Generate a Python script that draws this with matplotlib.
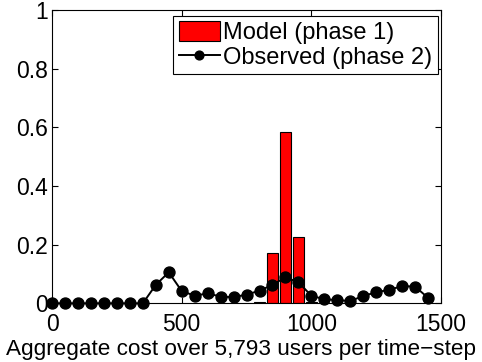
import matplotlib
matplotlib.use('Agg')
import matplotlib.pyplot as plt

plt.rcParams['font.family'] = ['Liberation Sans', 'DejaVu Sans']
plt.rcParams['axes.unicode_minus'] = True

# model distribution (bars) and observed distribution (line), cost bins of width 50
bar_x = [800, 850, 900, 950, 1000]
model_frac = [0.005, 0.171, 0.583, 0.226, 0.006]

obs_x = list(range(0, 1500, 50))
obs_frac = [0.0, 0.0, 0.0, 0.0, 0.0, 0.0, 0.0, 0.0, 0.063, 0.106,
            0.042, 0.026, 0.034, 0.023, 0.021, 0.030, 0.043, 0.063, 0.089, 0.072,
            0.026, 0.014, 0.011, 0.008, 0.025, 0.038, 0.046, 0.059, 0.057, 0.019]

xticks = [0, 500, 1000, 1500]
yticks = [0, 0.2, 0.4, 0.6, 0.8, 1]
ytick_labels = ['0', '0.2', '0.4', '0.6', '0.8', '1']

fs = 16.5

fig = plt.figure(figsize=(4.82, 3.62), dpi=100)
ax = fig.add_axes([0.108, 0.162, 0.807, 0.810])

bars = ax.bar(bar_x, model_frac, width=40, color='red', edgecolor='black',
              linewidth=0.8, label='Model (phase 1)', zorder=2)
line, = ax.plot(obs_x, obs_frac, '-o', color='black', markersize=7.9, linewidth=1.4,
                label='Observed (phase 2)', zorder=3, clip_on=False)

ax.set_xlim(0, 1500)
ax.set_ylim(0, 1)
ax.set_xticks(xticks)
ax.set_yticks(yticks)
ax.set_yticklabels(ytick_labels)
ax.tick_params(direction='in', top=True, right=True, length=4, width=0.8,
               labelsize=fs)
ax.tick_params(axis='x', pad=7)
ax.tick_params(axis='y', pad=3)
for s in ax.spines.values():
    s.set_linewidth(0.8)

ax.set_xlabel('Aggregate cost over 5,793 users per time\u2212step', fontsize=16.2)
ax.xaxis.set_label_coords(0.487, -0.12)

leg = ax.legend([bars, line], ['Model (phase 1)', 'Observed (phase 2)'],
                loc='upper right', bbox_to_anchor=(0.9915, 0.9806), fontsize=17,
                fancybox=False, framealpha=1, edgecolor='black',
                borderpad=0.22, labelspacing=0.1, handlelength=1.75,
                handleheight=0.9, handletextpad=0.15, borderaxespad=0,
                markerscale=0.8)
leg.get_frame().set_linewidth(0.8)

fig.savefig('out.png', dpi=100)
